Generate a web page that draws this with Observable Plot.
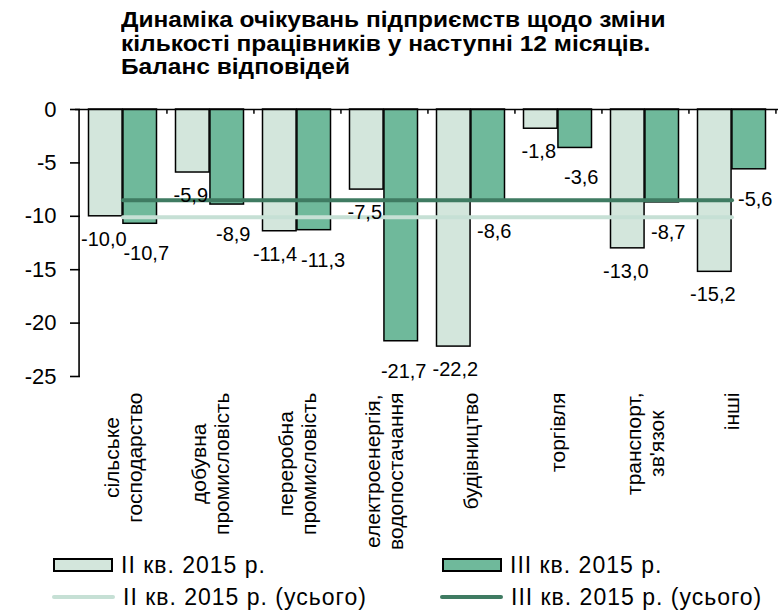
<!DOCTYPE html>
<html><head><meta charset="utf-8">
<script src="https://cdn.jsdelivr.net/npm/d3@7"></script>
<script src="https://cdn.jsdelivr.net/npm/@observablehq/plot@0.6"></script>
<style>
body{margin:0;background:#fff;font-family:"Liberation Sans",Arial,sans-serif;color:#000;}
#title{height:95px;box-sizing:border-box;padding:9px 0 0 121px;font-weight:bold;font-size:21.5px;line-height:23.5px;white-space:nowrap;}
#title div{transform:scaleX(1.14);transform-origin:0 50%;height:23.5px;}
#chart svg{display:block;overflow:visible;}
#legend{position:relative;height:61px;font-size:23px;letter-spacing:1px;}
.li{position:absolute;display:flex;align-items:center;white-space:nowrap;}
.sw{width:60px;height:14px;border:2px solid #000;box-sizing:border-box;margin-right:8px;}
.ln{width:63px;height:4px;margin-right:8px;border-radius:2px;}
</style></head><body>
<div id="title"></div>
<div id="chart"></div>
<div id="legend"></div>
<script>
const titleLines = ["Динаміка очікувань підприємств щодо зміни", "кількості працівників у наступні 12 місяців.", "Баланс відповідей"];
const categories = ["сільське\nгосподарство", "добувна\nпромисловість", "переробна\nпромисловість", "електроенергія,\nводопостачання", "будівництво", "торгівля", "транспорт,\nзв'язок", "інші"];
const seriesNames = ["ІІ кв. 2015 р.", "ІІІ кв. 2015 р."];
const lineNames = ["ІІ кв. 2015 р. (усього)", "ІІІ кв. 2015 р. (усього)"];
const q2 = [-10.0, -5.9, -11.4, -7.5, -22.2, -1.8, -13.0, -15.2];
const q3 = [-10.7, -8.9, -11.3, -21.7, -8.6, -3.6, -8.7, -5.6];
const totalQ2 = -10.1;
const totalQ3 = -8.5;
const yTicks = [0, -5, -10, -15, -20, -25];

const lightFill = "#d3e6dc", darkFill = "#6fb99b";
const lightLine = "#c6e0d5", darkLine = "#3f7b62";

for (const t of titleLines) {
  const d = document.createElement("div");
  d.textContent = t;
  document.getElementById("title").appendChild(d);
}

const W = 783, mL = 75, mR = 5, mT = 14, H = 455, mB = 174;
const bw = (W - mL - mR) / categories.length;
const pad = 9.5;
const barW = (bw - 2 * pad) / 2;
const off = bw / 2 - pad - barW / 2;

const rows = categories.map((c, i) => ({cat: c, q2: q2[i], q3: q3[i]}));
const fmt = v => v.toFixed(1).replace(".", ",");

const chart = Plot.plot({
  width: W, height: H,
  marginLeft: mL, marginRight: mR, marginTop: mT, marginBottom: mB,
  x: {type: "band", domain: categories, padding: 0},
  y: {domain: [-25, 0]},
  style: {fontFamily: "'Liberation Sans', Arial, sans-serif", color: "#000", background: "#fff", overflow: "visible"},
  marks: [
    Plot.barY(rows, {x: "cat", y: "q2", fill: lightFill, stroke: "#000", strokeWidth: 1.5, insetLeft: pad, insetRight: bw - pad - barW}),
    Plot.barY(rows, {x: "cat", y: "q3", fill: darkFill, stroke: "#000", strokeWidth: 1.5, insetLeft: pad + barW, insetRight: pad}),
    Plot.line(categories, {x: d => d, y: () => totalQ2, stroke: lightLine, strokeWidth: 4}),
    Plot.line(categories, {x: d => d, y: () => totalQ3, stroke: darkLine, strokeWidth: 4}),
    Plot.ruleY([0], {stroke: "#000", strokeWidth: 1.6}),
    Plot.ruleX(categories, {x: d => d, y1: 0, y2: -0.45, dx: bw / 2, stroke: "#000", strokeWidth: 1.5}),
    Plot.ruleX([categories[0]], {x: d => d, y1: 0, y2: -25, dx: -bw / 2, stroke: "#000", strokeWidth: 1.6}),
    Plot.axisY({ticks: yTicks, tickSize: 10, dx: 5, tickFormat: () => "", stroke: "#000", strokeWidth: 1.6, label: null}),
    Plot.axisY({ticks: yTicks, tickSize: 0, tickPadding: 19, fontSize: 22, label: null, tickFormat: d => String(d)}),
    Plot.text(rows, {x: "cat", y: "q2", text: d => fmt(d.q2), dx: -off - 2, dy: 23, fontSize: 20}),
    Plot.text(rows, {x: "cat", y: "q3", text: d => fmt(d.q3), dx: off + 6, dy: 30, fontSize: 20}),
    Plot.axisX({anchor: "bottom", tickSize: 0, tickRotate: -90, tickPadding: 16, fontSize: 21, label: null, lineHeight: 1.1})
  ]
});
document.getElementById("chart").appendChild(chart);

// centre the lines of each rotated, multi-line category label within its block
for (const t of chart.querySelectorAll("text")) {
  const spans = Array.from(t.children).filter(n => n.tagName.toLowerCase() === "tspan");
  if (spans.length < 2) continue;
  const lens = spans.map(s => s.getComputedTextLength());
  const L = Math.max(...lens);
  spans.forEach((s, i) => s.setAttribute("x", String(-(L - lens[i]) / 2)));
}

// push apart the two value labels of a category when they collide
const labelGroups = chart.querySelectorAll('g[aria-label="text"]');
if (labelGroups.length >= 2) {
  const a = labelGroups[0].querySelectorAll("text");
  const b = labelGroups[1].querySelectorAll("text");
  const shiftX = (el, d) => {
    if (el.hasAttribute("x")) el.setAttribute("x", String(+el.getAttribute("x") + d));
    else el.setAttribute("transform", `translate(${d},0) ` + (el.getAttribute("transform") || ""));
  };
  for (let i = 0; i < Math.min(a.length, b.length); i++) {
    const ra = a[i].getBoundingClientRect(), rb = b[i].getBoundingClientRect();
    const vOverlap = ra.bottom - 4 > rb.top + 4 && rb.bottom - 4 > ra.top + 4;
    const need = ra.right + 4 - rb.left;
    if (vOverlap && need > 0) { shiftX(a[i], -need / 2); shiftX(b[i], need / 2); }
  }
  // also between neighbouring categories
  for (let i = 0; i + 1 < Math.min(a.length, b.length); i++) {
    const rb = b[i].getBoundingClientRect(), ra = a[i + 1].getBoundingClientRect();
    const vOverlap = ra.bottom - 4 > rb.top + 4 && rb.bottom - 4 > ra.top + 4;
    const need = rb.right + 6 - ra.left;
    if (vOverlap && need > 0) { shiftX(b[i], -need / 2); shiftX(a[i + 1], need / 2); }
  }
}

const legend = document.getElementById("legend");
const items = [
  {x: 53, y: 15, kind: "sw", color: lightFill, text: seriesNames[0]},
  {x: 442, y: 15, kind: "sw", color: darkFill, text: seriesNames[1]},
  {x: 52, y: 47, kind: "ln", color: lightLine, text: lineNames[0]},
  {x: 440, y: 47, kind: "ln", color: darkLine, text: lineNames[1]}
];
for (const it of items) {
  const d = document.createElement("div");
  d.className = "li";
  d.style.left = it.x + "px";
  d.style.top = (it.y - 13) + "px";
  d.style.height = "26px";
  const s = document.createElement("span");
  s.className = it.kind;
  s.style.background = it.color;
  d.appendChild(s);
  d.appendChild(document.createTextNode(it.text));
  legend.appendChild(d);
}
</script>
</body></html>
